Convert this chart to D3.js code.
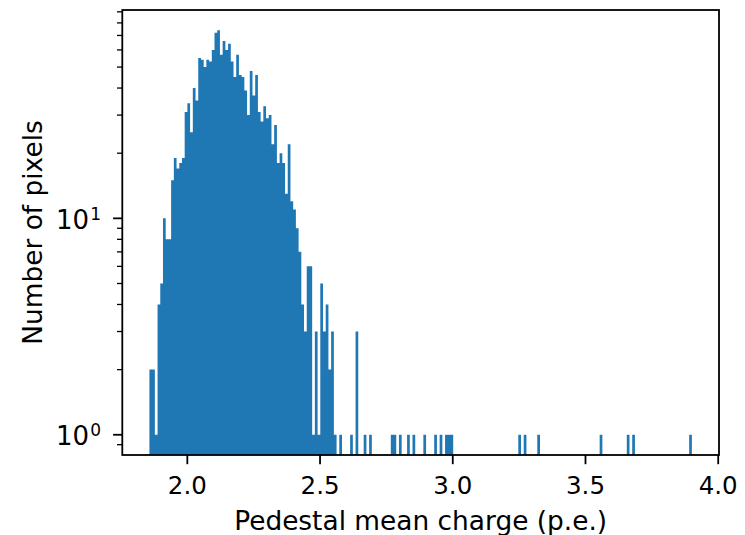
<!DOCTYPE html>
<html><head><meta charset="utf-8">
<script src="https://cdn.jsdelivr.net/npm/d3@7"></script>
<style>
body{margin:0;background:#fff}
svg{display:block}
text{font-family:"DejaVu Sans",sans-serif;fill:#000}
</style>
</head><body>
<svg id="c" width="745" height="535"></svg>
<script>
// Histogram: 200 equal bins starting at binStart
const binStart = 1.8572;
const binWidth = 0.010218;
const counts = [
  2,2,1,4,5,10,8,8,15,19,
  17,18,19,31,34,25,40,35,55,54,
  50,54,53,60,72,74,57,66,60,64,
  53,45,57,46,45,39,30,48,37,46,
  31,28,33,29,30,22,27,18,20,18,
  13,22,12,11,9,7,4,3,6,6,
  1,3,1,5,3,4,2,3,1,0,
  1,0,0,0,1,0,3,0,0,1,
  0,1,0,0,0,0,0,0,0,1,
  1,0,1,0,0,1,0,1,0,0,
  0,1,0,0,0,1,0,1,0,1,
  1,1,0,0,0,0,0,0,0,0,
  0,0,0,0,0,0,0,0,0,0,
  0,0,0,0,0,0,1,0,1,0,
  0,0,0,1,0,0,0,0,0,0,
  0,0,0,0,0,0,0,0,0,0,
  0,0,0,0,0,0,1,0,0,0,
  0,0,0,0,0,0,1,0,1,0,
  0,0,0,0,0,0,0,0,0,0,
  0,0,0,0,0,0,0,0,0,1
];
const xTicks = [2.0, 2.5, 3.0, 3.5, 4.0];
const xTickLabels = ["2.0", "2.5", "3.0", "3.5", "4.0"];
const yMajorTicks = [1, 10];
const yMajorExp = ["0", "1"];
const xLabel = "Pedestal mean charge (p.e.)";
const yLabel = "Number of pixels";

const svg = d3.select("#c");
const L = 122.3, R = 719, T = 10, B = 455;
const color = "#1f77b4";

const bins = counts.map((c, i) => ({x0: binStart + i * binWidth, x1: binStart + (i + 1) * binWidth, c}));
const dataMin = binStart, dataMax = binStart + counts.length * binWidth;
const span = dataMax - dataMin;
const x = d3.scaleLinear().domain([dataMin - 0.05 * span, dataMax + 0.05 * span]).range([L, R]);

const maxC = d3.max(counts), minC = d3.min(counts.filter(c => c > 0));
const lmin = Math.log10(minC), lmax = Math.log10(maxC);
const lspan = lmax - lmin;
const y = d3.scaleLog().domain([Math.pow(10, lmin - 0.05 * lspan), Math.pow(10, lmax + 0.05 * lspan)]).range([B, T]);

// bars: each run of adjacent non-empty bins is drawn as one outline path (no seams)
const runs = [];
let cur = null;
bins.forEach(b => {
  if (b.c > 0) { if (!cur) { cur = []; runs.push(cur); } cur.push(b); }
  else cur = null;
});
svg.append("g").selectAll("path").data(runs).join("path")
  .attr("fill", color)
  .attr("d", run => {
    const p = d3.path();
    p.moveTo(x(run[0].x0), B);
    run.forEach(b => { p.lineTo(x(b.x0), y(b.c)); p.lineTo(x(b.x1), y(b.c)); });
    p.lineTo(x(run[run.length - 1].x1), B);
    p.closePath();
    return p.toString();
  });

// spines
svg.append("rect").attr("x", L).attr("y", T).attr("width", R - L).attr("height", B - T)
  .attr("fill", "none").attr("stroke", "#000").attr("stroke-width", 1.8);

// x axis ticks
const xg = svg.append("g");
xTicks.forEach((t, i) => {
  xg.append("line").attr("x1", x(t)).attr("x2", x(t)).attr("y1", B).attr("y2", B + 9.2)
    .attr("stroke", "#000").attr("stroke-width", 1.8);
  xg.append("text").attr("x", x(t)).attr("y", 494.3).attr("text-anchor", "middle")
    .attr("font-size", 24.5).text(xTickLabels[i]);
});

// y axis ticks
const yg = svg.append("g");
const [d0, d1] = y.domain();
const minor = [];
for (let e = -1; e <= 2; e++) {
  for (let m = 2; m <= 9; m++) {
    const v = m * Math.pow(10, e);
    if (v >= d0 && v <= d1) minor.push(v);
  }
}
minor.forEach(v => {
  yg.append("line").attr("x1", L).attr("x2", L - 5.3).attr("y1", y(v)).attr("y2", y(v))
    .attr("stroke", "#000").attr("stroke-width", 1.3);
});
yMajorTicks.forEach((v, i) => {
  yg.append("line").attr("x1", L).attr("x2", L - 9.2).attr("y1", y(v)).attr("y2", y(v))
    .attr("stroke", "#000").attr("stroke-width", 1.8);
  const t = yg.append("text").attr("x", 101).attr("y", y(v) + 10.7).attr("text-anchor", "end")
    .attr("font-size", 26);
  t.append("tspan").text("10");
  t.append("tspan").attr("font-size", 17).attr("dy", -9.5).attr("dx", 1).text(yMajorExp[i]);
});

// axis labels
svg.append("text").attr("x", (L + R) / 2).attr("y", 530).attr("text-anchor", "middle")
  .attr("font-size", 26.4).text(xLabel);
svg.append("text").attr("transform", `translate(41.7,${(T + B) / 2}) rotate(-90)`)
  .attr("text-anchor", "middle").attr("font-size", 26.4).text(yLabel);
</script>
</body></html>
